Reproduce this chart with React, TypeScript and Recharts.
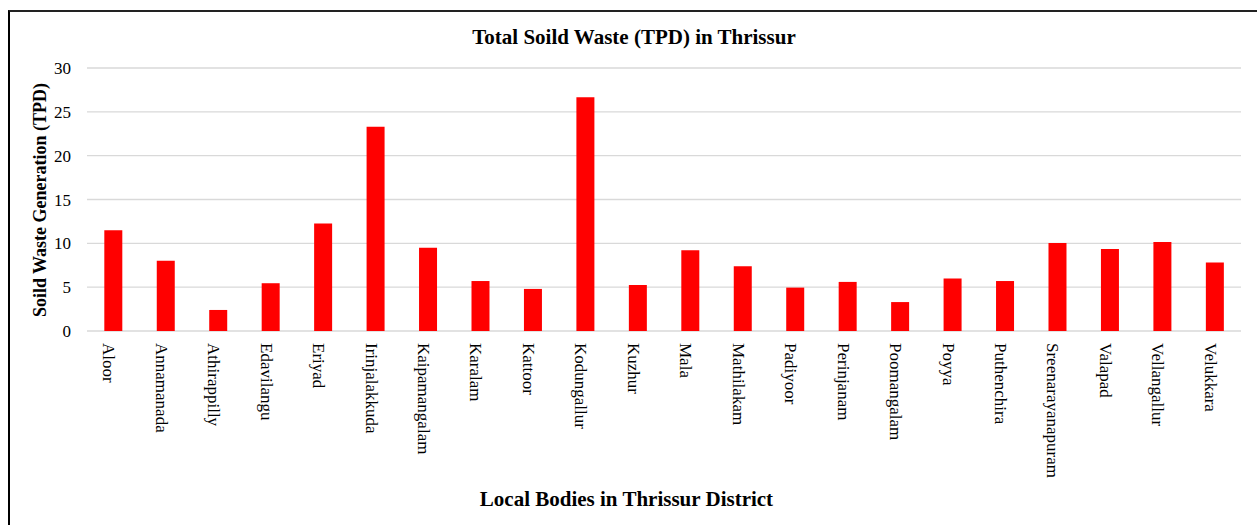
import React from "react";
import { BarChart, Bar, XAxis, YAxis, CartesianGrid } from "recharts";

const localBodies = [
  "Aloor",
  "Annamanada",
  "Athirappilly",
  "Edavilangu",
  "Eriyad",
  "Irinjalakkuda",
  "Kaipamangalam",
  "Karalam",
  "Kattoor",
  "Kodungallur",
  "Kuzhur",
  "Mala",
  "Mathilakam",
  "Padiyoor",
  "Perinjanam",
  "Poomangalam",
  "Poyya",
  "Puthenchira",
  "Sreenarayanapuram",
  "Valapad",
  "Vellangallur",
  "Velukkara",
];

const wasteTPD = [
  11.5, 8.0, 2.4, 5.45, 12.25, 23.3, 9.5, 5.7, 4.8, 26.65, 5.25, 9.2, 7.4,
  4.95, 5.6, 3.3, 6.0, 5.7, 10.05, 9.35, 10.15, 7.8,
];

const yTicks = [0, 5, 10, 15, 20, 25, 30];

const data = localBodies.map((name, i) => ({ name, value: wasteTPD[i] }));

const FONT = '"Liberation Serif", "Times New Roman", serif';

const RotatedTick = (props: any) => {
  const { x, y, payload } = props;
  return (
    <text
      x={0}
      y={0}
      dy="0.35em"
      transform={`translate(${x - 4},${y}) rotate(90)`}
      textAnchor="start"
      fontFamily={FONT}
      fontSize={17}
      fill="#000"
    >
      {payload.value}
    </text>
  );
};

const App: React.FC = () => {
  return (
    <div
      style={{
        position: "absolute",
        left: 0,
        top: 0,
        width: 1257,
        height: 525,
        overflow: "hidden",
        background: "#fff",
        fontFamily: FONT,
      }}
    >
      <div
        style={{
          position: "absolute",
          left: 8,
          top: 10,
          width: 1247,
          height: 540,
          borderLeft: "2px solid #000",
          borderTop: "2px solid #222",
          borderRight: "1px solid #ddd",
        }}
      />
      <div
        style={{
          position: "absolute",
          left: 0,
          width: 1268,
          top: 25,
          textAlign: "center",
          fontWeight: "bold",
          fontSize: 21,
          lineHeight: "24px",
          color: "#000",
        }}
      >
        Total Soild Waste (TPD) in Thrissur
      </div>
      <div
        style={{
          position: "absolute",
          left: 40 - 150,
          top: 200 - 12,
          width: 300,
          height: 24,
          lineHeight: "24px",
          textAlign: "center",
          transform: "rotate(-90deg)",
          fontWeight: "bold",
          fontSize: 18,
          color: "#000",
        }}
      >
        Soild Waste Generation (TPD)
      </div>
      <div
        style={{
          position: "absolute",
          left: 0,
          width: 1253,
          top: 487,
          textAlign: "center",
          fontWeight: "bold",
          fontSize: 21,
          lineHeight: "24px",
          color: "#000",
        }}
      >
        Local Bodies in Thrissur District
      </div>
      <div style={{ position: "absolute", left: 0, top: 0 }}>
        <BarChart
          width={1257}
          height={525}
          data={data}
          margin={{ top: 68, right: 16, left: 27, bottom: 0 }}
          barCategoryGap="33%"
        >
          <CartesianGrid vertical={false} stroke="#d9d9d9" strokeWidth={1.3} />
          <XAxis
            dataKey="name"
            interval={0}
            axisLine={false}
            tickLine={false}
            tickSize={0}
            tickMargin={12}
            height={194}
            tick={<RotatedTick />}
          />
          <YAxis
            domain={[0, 30]}
            ticks={yTicks}
            width={60}
            axisLine={false}
            tickLine={false}
            tickSize={0}
            tickMargin={16}
            tick={{ fontFamily: FONT, fontSize: 17, fill: "#000" }}
          />
          <Bar dataKey="value" fill="#ff0000" isAnimationActive={false} />
        </BarChart>
      </div>
    </div>
  );
};

export default App;
